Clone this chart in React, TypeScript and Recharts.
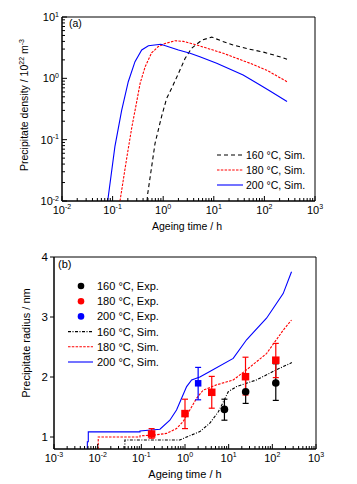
import {
  LineChart, ComposedChart, Line, Scatter, ErrorBar, XAxis, YAxis, ReferenceArea,
} from "recharts";

const FONT = "'Liberation Sans', Arial, sans-serif";

// (a) precipitate density / 10^22 m^-3 vs ageing time / h
const timeA160 = [0.48, 0.49, 0.69, 0.93, 1.17, 1.47, 2.0, 2.7, 3.65, 5.8, 9.1, 15, 24, 50, 100, 200, 280];
const densA160 = [0.01, 0.0125, 0.087, 0.24, 0.47, 0.69, 1.2, 2.1, 3.1, 4.2, 4.7, 4.0, 3.5, 3.0, 2.65, 2.25, 2.05];
const timeA180 = [0.14, 0.19, 0.24, 0.3, 0.35, 0.44, 0.59, 0.8, 1.09, 1.71, 2.5, 4.6, 15.4, 52, 111, 255, 280];
const densA180 = [0.01, 0.05, 0.16, 0.42, 0.83, 1.55, 2.6, 3.3, 3.7, 4.1, 4.0, 3.5, 2.56, 1.76, 1.36, 0.92, 0.88];
const timeA200 = [0.08, 0.111, 0.151, 0.204, 0.277, 0.376, 0.51, 0.9, 2.0, 3.4, 5.3, 11.4, 38, 82, 129, 280];
const densA200 = [0.01, 0.077, 0.3, 0.88, 1.87, 2.9, 3.4, 3.6, 2.9, 2.56, 2.25, 1.76, 1.13, 0.78, 0.62, 0.42];

// (b) precipitate radius / nm, simulation
const timeB160 = [0.042, 0.042, 0.76, 1.09, 2.19, 3.7, 5.8, 7.6, 9.8, 15.1, 43, 124, 280];
const radB160 = [0.8, 0.95, 0.95, 1.0, 1.09, 1.23, 1.42, 1.59, 1.755, 1.84, 1.95, 2.12, 2.24];
const timeB180 = [0.0103, 0.0103, 0.093, 0.093, 0.187, 0.38, 0.64, 0.91, 1.29, 1.84, 2.6, 5.3, 12.7, 25.7, 73.6, 177, 275];
const radB180 = [0.8, 1.0, 1.0, 1.02, 1.03, 1.06, 1.14, 1.26, 1.45, 1.645, 1.78, 1.87, 1.95, 2.12, 2.39, 2.78, 2.95];
const timeB200 = [0.0058, 0.0058, 0.0061, 0.0061, 0.093, 0.093, 0.267, 0.45, 0.64, 0.835, 1.09, 1.42, 2.19, 3.7, 12.7, 25.7, 36.4, 73.6, 177, 275];
const radB200 = [0.8, 0.92, 0.92, 1.085, 1.085, 1.1, 1.13, 1.28, 1.45, 1.645, 1.84, 1.95, 2.0, 2.09, 2.31, 2.62, 2.74, 2.98, 3.39, 3.755];

// (b) experiment: mean radius with lower / upper error bar ends
const expTime160 = [8, 24.5, 120];
const expRad160 = [1.46, 1.755, 1.9];
const expLow160 = [1.28, 1.56, 1.61];
const expHigh160 = [1.63, 1.96, 2.22];
const expTime180 = [0.172, 1.0, 4.1, 24.3, 120];
const expRad180 = [1.05, 1.39, 1.745, 2.005, 2.28];
const expLow180 = [0.98, 1.14, 1.48, 1.7, 1.99];
const expHigh180 = [1.14, 1.63, 2.01, 2.33, 2.56];
const expTime200 = [2.0];
const expRad200 = [1.895];
const expLow200 = [1.62];
const expHigh200 = [2.16];

const legendA = ["160 °C, Sim.", "180 °C, Sim.", "200 °C, Sim."];
const legendB = ["160 °C, Exp.", "180 °C, Exp.", "200 °C, Exp.", "160 °C, Sim.", "180 °C, Sim.", "200 °C, Sim."];
const radiusTicks = [1, 2, 3, 4];

const pts = (ts: number[], vs: number[]) => ts.map((t, i) => ({ t, v: vs[i] }));
const expPts = (ts: number[], vs: number[], lo: number[], hi: number[]) =>
  ts.map((t, i) => ({ t, v: vs[i], err: [vs[i] - lo[i], hi[i] - vs[i]] }));

// 1..9 x 10^e for each decade, for the minor ticks
function logTicks(lo: number, hi: number) {
  const out: number[] = [];
  for (let e = lo; e < hi; e++) for (let m = 1; m <= 9; m++) out.push(+(m * 10 ** e).toPrecision(3));
  out.push(10 ** hi);
  return out;
}
const isDecade = (v: number) => Math.abs(Math.log10(v) - Math.round(Math.log10(v))) < 1e-6;

function Pow({ x, y, e, anchor, size }: { x: number; y: number; e: number; anchor: string; size: number }) {
  return (
    <text x={x} y={y} textAnchor={anchor} fontSize={size} fontFamily={FONT} fill="#000">
      10<tspan dy={-4.5} fontSize={7}>{e}</tspan>
    </text>
  );
}

function LogTickX(props: any) {
  const { x, y, payload } = props;
  const major = isDecade(payload.value);
  return (
    <g>
      <line x1={x} x2={x} y1={y} y2={y - (major ? 5 : 3)} stroke="#000" />
      {major && <Pow x={x} y={y + 12.5} e={Math.round(Math.log10(payload.value))} anchor="middle" size={11} />}
    </g>
  );
}

function LogTickY(props: any) {
  const { x, y, payload } = props;
  const major = isDecade(payload.value);
  return (
    <g>
      <line x1={x} x2={x + (major ? 5 : 3)} y1={y} y2={y} stroke="#000" />
      {major && <Pow x={x - 3} y={y + 4} e={Math.round(Math.log10(payload.value))} anchor="end" size={11} />}
    </g>
  );
}

function LinTickY(props: any) {
  const { x, y, payload } = props;
  return (
    <g>
      <line x1={x - 4} x2={x} y1={y} y2={y} stroke="#000" />
      <text x={x - 6} y={y + 4} textAnchor="end" fontSize={11.5} fontFamily={FONT}>{payload.value}</text>
    </g>
  );
}

const sq = (size: number, color: string) => (p: any) =>
  <rect x={p.cx - size / 2} y={p.cy - size / 2} width={size} height={size} fill={color} />;
const dotShape = (r: number, color: string) => (p: any) => <circle cx={p.cx} cy={p.cy} r={r} fill={color} />;

const simA = [
  { data: pts(timeA160, densA160), color: "#000", dash: "4 3" },
  { data: pts(timeA180, densA180), color: "#f00", dash: "2.5 1.3" },
  { data: pts(timeA200, densA200), color: "#00f", dash: undefined },
];
const simB = [
  { data: pts(timeB160, radB160), color: "#000", dash: "3 1.5 1 1.5" },
  { data: pts(timeB180, radB180), color: "#f00", dash: "2.5 1.3" },
  { data: pts(timeB200, radB200), color: "#00f", dash: undefined },
];

function DensityChart() {
  return (
    <LineChart width={357} height={240} margin={{ top: 17, right: 42, bottom: 9, left: 22 }}>
      <XAxis dataKey="t" type="number" scale="log" domain={[0.01, 1000]} allowDataOverflow
        ticks={logTicks(-2, 3)} interval={0} height={30} tickSize={0} tickMargin={0}
        tickLine={false} tick={<LogTickX />} axisLine={{ stroke: "#000" }} />
      <YAxis type="number" scale="log" domain={[0.01, 10]} allowDataOverflow
        ticks={logTicks(-2, 1)} interval={0} width={40} tickSize={0} tickMargin={0}
        tickLine={false} tick={<LogTickY />} axisLine={{ stroke: "#000" }} />
      <ReferenceArea x1={0.01} x2={1000} y1={0.01} y2={10} fill="none" stroke="#000" />
      {simA.map((s, i) => (
        <Line key={i} data={s.data} dataKey="v" stroke={s.color} strokeWidth={1.1}
          strokeDasharray={s.dash} dot={false} activeDot={false} isAnimationActive={false} />
      ))}
      <text x={69} y={27} fontSize={10.5} fontFamily={FONT}>(a)</text>
      {legendA.map((label, i) => (
        <g key={label}>
          <line x1={217} x2={243} y1={155 + i * 15} y2={155 + i * 15} stroke={simA[i].color}
            strokeWidth={1.1} strokeDasharray={simA[i].dash} />
          <text x={246} y={158.5 + i * 15} fontSize={10.5} fontFamily={FONT}>{label}</text>
        </g>
      ))}
      <text x={187} y={229.5} textAnchor="middle" fontSize={10.5} fontFamily={FONT}>Ageing time / h</text>
      <text transform="translate(28,105) rotate(-90)" textAnchor="middle" fontSize={10.5} fontFamily={FONT}>
        Precipitate density / 10<tspan dy={-4} fontSize={7}>22</tspan>
        <tspan dy={4} fontSize={10.5}> m</tspan><tspan dy={-4} fontSize={7}>-3</tspan>
      </text>
    </LineChart>
  );
}

function RadiusChart() {
  const exp = [
    { data: expPts(expTime160, expRad160, expLow160, expHigh160), color: "#000", shape: dotShape(3.8, "#000") },
    { data: expPts(expTime180, expRad180, expLow180, expHigh180), color: "#f00", shape: sq(7.5, "#f00") },
    { data: expPts(expTime200, expRad200, expLow200, expHigh200), color: "#00f", shape: sq(6.5, "#00f") },
  ];
  return (
    <ComposedChart width={357} height={244} margin={{ top: 17, right: 41, bottom: 5, left: 14 }}>
      <XAxis dataKey="t" type="number" scale="log" domain={[0.001, 1000]} allowDataOverflow
        ticks={logTicks(-3, 3)} interval={0} height={30} tickSize={0} tickMargin={0}
        tickLine={false} tick={<LogTickX />} axisLine={{ stroke: "#000" }} />
      <YAxis type="number" domain={[0.8, 4]} allowDataOverflow ticks={radiusTicks} interval={0}
        width={40} tickSize={0} tickMargin={0} tickLine={false} tick={<LinTickY />} axisLine={{ stroke: "#000" }} />
      <ReferenceArea x1={0.001} x2={1000} y1={0.8} y2={4} fill="none" stroke="#000" />
      {simB.map((s, i) => (
        <Line key={i} data={s.data} dataKey="v" stroke={s.color} strokeWidth={1.1}
          strokeDasharray={s.dash} dot={false} activeDot={false} isAnimationActive={false} />
      ))}
      {exp.map((s, i) => (
        <Scatter key={i} data={s.data} dataKey="v" shape={s.shape} isAnimationActive={false}>
          <ErrorBar dataKey="err" direction="y" width={3} stroke={s.color} strokeWidth={1.2} isAnimationActive={false} />
        </Scatter>
      ))}
      <text x={58} y={28} fontSize={11} fontFamily={FONT}>(b)</text>
      {legendB.map((label, i) => {
        const y = 46 + i * 15.2;
        const c = i < 3 ? exp[i].color : simB[i - 3].color;
        return (
          <g key={label}>
            {i < 3
              ? <circle cx={81} cy={y} r={3.3} fill={c} />
              : <line x1={68} x2={93} y1={y} y2={y} stroke={c} strokeWidth={1.1} strokeDasharray={simB[i - 3].dash} />}
            <text x={97} y={y + 4} fontSize={11} fontFamily={FONT}>{label}</text>
          </g>
        );
      })}
      <text x={185} y={238} textAnchor="middle" fontSize={11} fontFamily={FONT}>Ageing time / h</text>
      <text transform="translate(29.5,103) rotate(-90)" textAnchor="middle" fontSize={11} fontFamily={FONT}>
        Precipitate radius / nm
      </text>
    </ComposedChart>
  );
}

export default function App() {
  return (
    <div style={{ position: "absolute", left: 0, top: 0, width: 357, height: 484, background: "#fff" }}>
      <DensityChart />
      <RadiusChart />
    </div>
  );
}
